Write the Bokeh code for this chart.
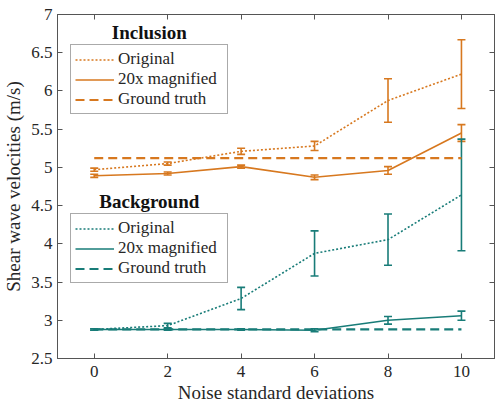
from bokeh.plotting import figure
from bokeh.models import (ColumnDataSource, Whisker, TeeHead, Legend, LegendItem,
                          LinearAxis, FixedTicker, Label, Range1d, CustomLabelingPolicy)
from bokeh.embed import file_html
from bokeh.resources import INLINE

# ---- data ----
noise = [0, 2, 4, 6, 8, 10]
inc_orig = [4.97, 5.05, 5.21, 5.28, 5.875, 6.22]
inc_orig_err = [0.02, 0.02, 0.04, 0.06, 0.285, 0.45]
inc_mag = [4.89, 4.92, 5.01, 4.87, 4.96, 5.45]
inc_mag_err = [0.02, 0.02, 0.02, 0.03, 0.05, 0.11]
inc_gt = 5.12
bg_orig = [2.88, 2.93, 3.285, 3.875, 4.055, 4.64]
bg_orig_err = [0.01, 0.03, 0.145, 0.295, 0.335, 0.73]
bg_mag = [2.88, 2.88, 2.88, 2.87, 3.00, 3.06]
bg_mag_err = [0.01, 0.01, 0.01, 0.02, 0.05, 0.06]
bg_gt = 2.88
x_ticks = [0, 2, 4, 6, 8, 10]
y_ticks = [2.5, 3, 3.5, 4, 4.5, 5, 5.5, 6, 6.5, 7]
y_tick_labels = ["2.5", "3", "3.5", "4", "4.5", "5", "5.5", "6", "6.5", "7"]
labels = ["Original", "20x magnified", "Ground truth"]

ORANGE = "#D7781F"
TEAL = "#187C78"
FONT = "Liberation Serif"
TXT = "#262626"
AX = "#555555"

p = figure(frame_width=437, frame_height=344, output_backend="svg", toolbar_location=None,
           x_range=Range1d(-1, 10.9), y_range=Range1d(2.5, 7),
           min_border_left=57, min_border_top=11, min_border_right=0, min_border_bottom=0)
p.grid.visible = False
p.outline_line_color = AX
p.background_fill_color = "white"


def style_axis(ax):
    ax.axis_line_color = AX
    ax.major_tick_line_color = AX
    ax.major_tick_in = 5
    ax.major_tick_out = 0
    ax.minor_tick_line_color = None
    ax.major_label_text_font = FONT
    ax.major_label_text_color = TXT
    ax.major_label_text_font_size = "17px"


p.xaxis.ticker = FixedTicker(ticks=x_ticks)
p.yaxis.ticker = FixedTicker(ticks=y_ticks)
p.yaxis.major_label_overrides = {t: l for t, l in zip(y_ticks, y_tick_labels)}
style_axis(p.xaxis[0])
style_axis(p.yaxis[0])
p.xaxis.axis_label = "Noise standard deviations"
p.yaxis.axis_label = "Shear wave velocities (m/s)"
for ax in (p.xaxis[0], p.yaxis[0]):
    ax.axis_label_text_font = FONT
    ax.axis_label_text_font_style = "normal"
    ax.axis_label_text_font_size = "19px"
    ax.axis_label_text_color = TXT
p.xaxis.major_label_standoff = 7
p.xaxis.axis_label_standoff = 2
p.yaxis.major_label_standoff = 5
p.yaxis.axis_label_standoff = 4

hide = CustomLabelingPolicy(code="return new Set()")
top = LinearAxis(ticker=FixedTicker(ticks=x_ticks), major_label_policy=hide,
                 major_label_standoff=0)
style_axis(top)
p.add_layout(top, "above")
right = LinearAxis(ticker=FixedTicker(ticks=y_ticks), major_label_policy=hide,
                   major_label_standoff=0)
style_axis(right)
p.add_layout(right, "right")


def add_group(orig, orig_err, mag, mag_err, gt, color, loc, title, title_y):
    src_o = ColumnDataSource(dict(x=noise, y=orig,
                                  lo=[v - e for v, e in zip(orig, orig_err)],
                                  hi=[v + e for v, e in zip(orig, orig_err)]))
    src_m = ColumnDataSource(dict(x=noise, y=mag,
                                  lo=[v - e for v, e in zip(mag, mag_err)],
                                  hi=[v + e for v, e in zip(mag, mag_err)]))
    r_g = p.line([noise[0], noise[-1]], [gt, gt], line_color=color, line_width=2.2,
                 line_dash="9 5")
    r_o = p.line("x", "y", source=src_o, line_color=color, line_width=1.6, line_dash="2 2")
    r_m = p.line("x", "y", source=src_m, line_color=color, line_width=1.6)
    for s in (src_o, src_m):
        p.add_layout(Whisker(source=s, base="x", lower="lo", upper="hi", line_color=color,
                             line_width=1.6,
                             upper_head=TeeHead(size=8, line_color=color, line_width=1.6),
                             lower_head=TeeHead(size=8, line_color=color, line_width=1.6)))
    leg = Legend(items=[LegendItem(label=labels[0], renderers=[r_o]),
                        LegendItem(label=labels[1], renderers=[r_m]),
                        LegendItem(label=labels[2], renderers=[r_g])],
                 location=loc, orientation="vertical",
                 label_text_font=FONT, label_text_font_size="17px", label_text_color=TXT,
                 glyph_width=39, glyph_height=19, label_height=20, label_width=105,
                 spacing=0, padding=4, margin=0, label_standoff=4,
                 border_line_color=AX, border_line_width=1, background_fill_alpha=1)
    p.add_layout(leg, "center")
    p.add_layout(Label(x=1.5, y=title_y, text=title, text_align="center",
                       text_baseline="middle", text_font=FONT, text_font_size="19px",
                       text_font_style="bold", text_color="#111111"))


add_group(inc_orig, inc_orig_err, inc_mag, inc_mag_err, inc_gt, ORANGE, (13, 244),
          "Inclusion", 6.76)
add_group(bg_orig, bg_orig_err, bg_mag, bg_mag_err, bg_gt, TEAL, (13, 75),
          "Background", 4.55)

open("out.html", "w").write(file_html(p, INLINE))
